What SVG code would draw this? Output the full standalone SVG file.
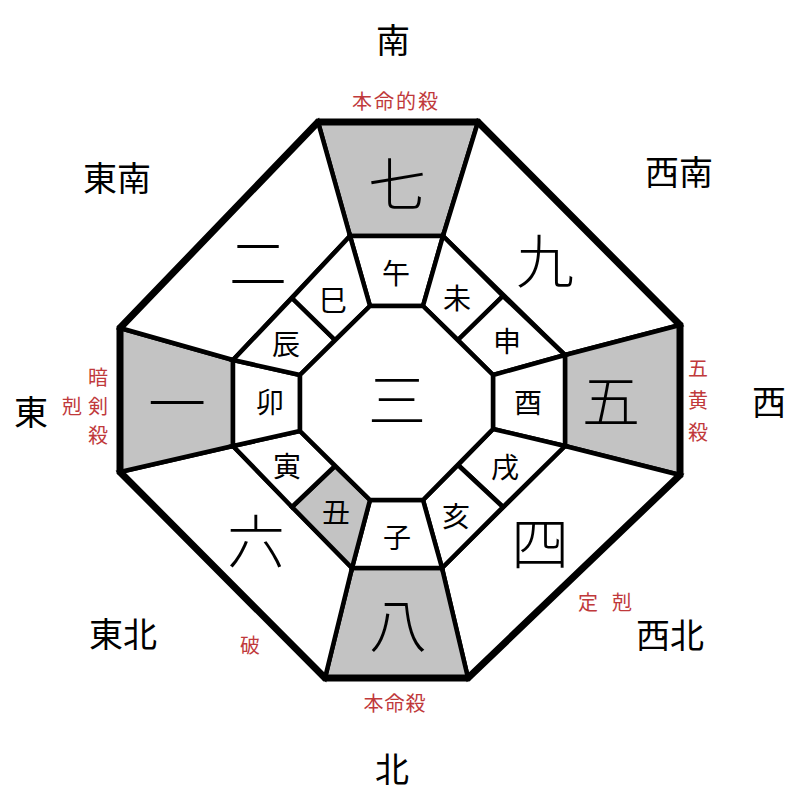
<svg xmlns="http://www.w3.org/2000/svg" width="800" height="800" viewBox="0 0 800 800">
<style>
.cell{fill:#ffffff;stroke:#000;stroke-width:4.5;stroke-linejoin:miter}
.gray{fill:#c3c3c3}
.outer{fill:none;stroke:#000;stroke-width:7;stroke-linejoin:miter}
text{font-family:"Noto Sans CJK JP","Noto Sans CJK SC",sans-serif;text-anchor:middle;dominant-baseline:central;fill:#000}
.dir{font-size:34px}
.num{font-size:58px;font-weight:300}
.br{font-size:28px}
.red{font-size:20px;fill:#c0393b}
</style>
<rect width="800" height="800" fill="#fff"/>
<g id="palaces">
<g id="p-top"><polygon class="cell gray" points="318,122 478,122 443,236 350,236"/><text class="num" x="397" y="181">七</text></g>
<g id="p-tr"><polygon class="cell" points="478,122 680,325 565,355 443,236"/><text class="num" x="545" y="258">九</text></g>
<g id="p-right"><polygon class="cell gray" points="680,325 680,475 565,446 565,355"/><text class="num" x="611" y="398">五</text></g>
<g id="p-br"><polygon class="cell" points="680,475 468,678 442,568 565,446"/><text class="num" x="540" y="540">四</text></g>
<g id="p-bottom"><polygon class="cell gray" points="468,678 325,678 352,568 442,568"/><text class="num" x="398" y="622">八</text></g>
<g id="p-bl"><polygon class="cell" points="325,678 120,472 233,446 352,568"/><text class="num" x="256" y="538">六</text></g>
<g id="p-left"><polygon class="cell gray" points="120,472 120,328 233,360 233,446"/><text class="num" x="177" y="400">一</text></g>
<g id="p-tl"><polygon class="cell" points="120,328 318,122 350,236 233,360"/><text class="num" x="258" y="260">二</text></g>
</g>
<g id="branches">
<g id="b-wu"><polygon class="cell" points="350,236 443,236 423,306 370,306"/><text class="br" x="396" y="272">午</text></g>
<g id="b-wei"><polygon class="cell" points="443,236 503,296 458,340 423,306"/><text class="br" x="457" y="297">未</text></g>
<g id="b-shen"><polygon class="cell" points="503,296 565,355 493,375 458,340"/><text class="br" x="507" y="340">申</text></g>
<g id="b-you"><polygon class="cell" points="565,355 565,446 493,429 493,375"/><text class="br" x="528" y="401">酉</text></g>
<g id="b-xu"><polygon class="cell" points="565,446 503,507 458,465 493,429"/><text class="br" x="505" y="466">戌</text></g>
<g id="b-hai"><polygon class="cell" points="503,507 442,568 423,500 458,465"/><text class="br" x="456" y="515">亥</text></g>
<g id="b-zi"><polygon class="cell" points="442,568 352,568 370,500 423,500"/><text class="br" x="397" y="536">子</text></g>
<g id="b-chou"><polygon class="cell gray" points="352,568 292,507 335,466 370,500"/><text class="br" x="336" y="511">丑</text></g>
<g id="b-yin"><polygon class="cell" points="292,507 233,446 300,431 335,466"/><text class="br" x="287" y="465">寅</text></g>
<g id="b-mao"><polygon class="cell" points="233,446 233,360 300,375 300,431"/><text class="br" x="270" y="401">卯</text></g>
<g id="b-chen"><polygon class="cell" points="233,360 292,298 335,340 300,375"/><text class="br" x="286" y="343">辰</text></g>
<g id="b-si"><polygon class="cell" points="292,298 350,236 370,306 335,340"/><text class="br" x="333" y="299">巳</text></g>
</g>
<g id="center"><polygon class="cell" points="370,306 423,306 493,375 493,429 423,500 370,500 300,431 300,375"/><text class="num" x="397" y="397">三</text></g>
<g id="connectors"><polygon class="outer" points="318,122 478,122 680,325 680,475 468,678 325,678 120,472 120,328"/></g>
<g id="directions">
<text class="dir" x="393" y="38">南</text>
<text class="dir" x="117" y="176">東南</text>
<text class="dir" x="679" y="170">西南</text>
<text class="dir" x="31" y="410">東</text>
<text class="dir" x="769" y="400">西</text>
<text class="dir" x="123" y="632">東北</text>
<text class="dir" x="670" y="633">西北</text>
<text class="dir" x="392" y="767">北</text>
</g>
<g id="labels">
<text class="red" x="396" y="100" letter-spacing="2">本命的殺</text>
<text class="red" x="395" y="702" letter-spacing="1">本命殺</text>
<text class="red" x="98" y="376">暗</text>
<text class="red" x="98" y="405">剣</text>
<text class="red" x="98" y="434">殺</text>
<text class="red" x="72" y="405">剋</text>
<text class="red" x="698" y="367">五</text>
<text class="red" x="698" y="399">黄</text>
<text class="red" x="698" y="431">殺</text>
<text class="red" x="588" y="601">定</text>
<text class="red" x="622" y="601">剋</text>
<text class="red" x="250" y="644">破</text>
</g>
</svg>
